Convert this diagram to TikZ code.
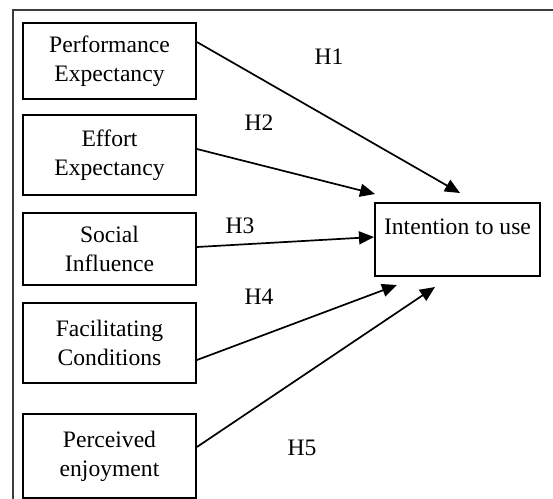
\documentclass[tikz,border=0pt]{standalone}
\usepackage{fontspec}
\setmainfont{Liberation Serif}
\usetikzlibrary{arrows.meta}
\definecolor{frameGray}{HTML}{3C3C3C}
\newcommand{\modelfont}{\fontsize{11.8}{14.5}\selectfont}
\tikzset{
  factor/.style={rectangle, draw, line width=0.9pt, minimum width=86.5pt,
    align=center, inner sep=2pt, font=\modelfont},
  hypo/.style={font=\modelfont, inner sep=0pt},
  link/.style={-{Triangle[length=7.5pt,width=6.5pt]}, line width=0.85pt}
}

\begin{document}
\begin{tikzpicture}[x=0.5pt, y=-0.5pt]
\useasboundingbox (0,0) rectangle (553,499);

% --- OUTER FRAME ---
\draw[frameGray, line width=1pt] (13,499) -- (13,10) -- (553,10);

% --- FACTORS ---
\node[factor, minimum height=38pt] (perf)   at (109.5,61)    {Performance\\Expectancy};
\node[factor, minimum height=40pt] (effort) at (109.5,155)   {Effort\\Expectancy};
\node[factor, minimum height=36pt] (social) at (109.5,249)   {Social\\Influence};
\node[factor, minimum height=40pt] (facil)  at (109.5,343)   {Facilitating\\Conditions};
\node[factor, minimum height=42pt] (enjoy)  at (109.5,456)   {Perceived\\enjoyment};

% --- OUTCOME ---
\node[draw, line width=0.9pt, minimum width=82.5pt, inner sep=0pt,
  text height=15.5pt, text depth=21pt, font=\modelfont, anchor=base]
  (intent) at (457.5,234) {Intention to use};

% arrow tips
\coordinate (t1) at (460,193);
\coordinate (t2) at (375,194);
\coordinate (t3) at (374,237);
\coordinate (t4) at (397,285);
\coordinate (t5) at (435,287);

% --- HYPOTHESES ---
\draw[link] ([yshift=9.5pt]perf.east)  -- (t1);
\draw[link] ([yshift=3pt]effort.east)  -- (t2);
\draw[link] ([yshift=1pt]social.east)  -- (t3);
\draw[link] ([yshift=-8.5pt]facil.east) -- (t4);
\draw[link] ([yshift=4.5pt]enjoy.east)  -- (t5);

\foreach \name/\lbl/\pos in {h1/H1/{329,57}, h2/H2/{259,123}, h3/H3/{240,226},
                             h4/H4/{259,297}, h5/H5/{302,448}}{
  \node[hypo] (\name) at (\pos) {\lbl};
}

\end{tikzpicture}
\end{document}
